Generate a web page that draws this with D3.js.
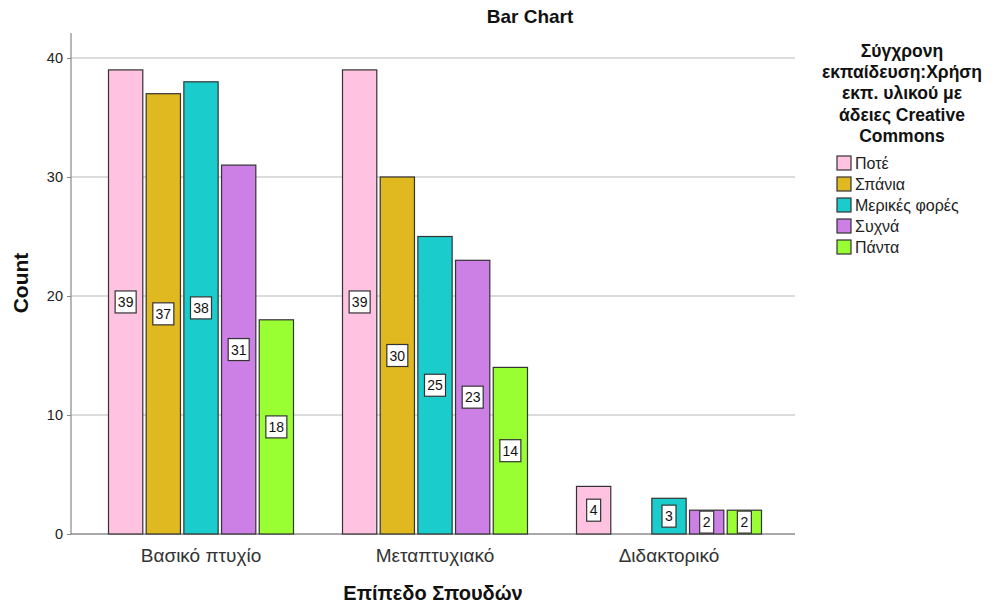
<!DOCTYPE html>
<html><head><meta charset="utf-8">
<script src="https://cdn.jsdelivr.net/npm/d3@7"></script>
<style>body{margin:0;background:#fff;font-family:"Liberation Sans",Arial,sans-serif;}</style>
</head><body><svg id="c" width="997" height="606"></svg>
<script>
const categories = ["Βασικό πτυχίο", "Μεταπτυχιακό", "Διδακτορικό"];
const seriesNames = ["Ποτέ", "Σπάνια", "Μερικές φορές", "Συχνά", "Πάντα"];
const seriesColors = ["#FFC2E0", "#E0B820", "#1ACCCC", "#CC80E6", "#99FF33"];
const values = [
  [39, 39, 4],
  [37, 30, 0],
  [38, 25, 3],
  [31, 23, 2],
  [18, 14, 2]
];
const yTicks = [0, 10, 20, 30, 40];
const legendTitle = ["Σύγχρονη", "εκπαίδευση:Χρήση", "εκπ. υλικού με", "άδειες Creative", "Commons"];

(function(){
const svg = d3.select("#c");
const pL = 71, pR = 795, pT = 33, pB = 534;
const y = d3.scaleLinear().domain([0, 40]).range([pB, 58]);
const x0 = d3.scaleBand().domain(categories).range([84, 786]).paddingInner(0).paddingOuter(0);
const groupW = 185;
const x1 = d3.scaleBand().domain(seriesNames).range([0, groupW]).paddingInner(0.09).paddingOuter(0);

// gridlines
svg.append("g").selectAll("line").data(yTicks.filter(d => d > 0)).join("line")
  .attr("x1", pL).attr("x2", pR).attr("y1", d => y(d)).attr("y2", d => y(d))
  .attr("stroke", "#d0d0d0").attr("stroke-width", 1.5);

// axes
svg.append("line").attr("x1", pL).attr("x2", pL).attr("y1", pT).attr("y2", pB).attr("stroke", "#888").attr("stroke-width", 1.2);
svg.append("line").attr("x1", pL).attr("x2", pR).attr("y1", pB).attr("y2", pB).attr("stroke", "#555").attr("stroke-width", 1.2);
const yAxis = d3.axisLeft(y).tickValues(yTicks).tickSize(4).tickPadding(4);
const ya = svg.append("g").attr("transform", `translate(${pL},0)`).call(yAxis);
ya.select(".domain").remove();
ya.selectAll("line").attr("stroke", "#888");
ya.selectAll("text").attr("font-size", 14.5).attr("fill", "#222").attr("font-family", "Liberation Sans, Arial, sans-serif");

// bars
const data = [];
seriesNames.forEach((s, si) => categories.forEach((c, ci) => data.push({s, si, c, v: values[si][ci]})));
const bx = d => x0(d.c) + (x0.bandwidth() - groupW) / 2 + x1(d.s);
const bars = data.filter(d => d.v > 0);
svg.append("g").selectAll("rect").data(bars).join("rect")
  .attr("x", bx).attr("width", x1.bandwidth())
  .attr("y", d => y(d.v)).attr("height", d => y(0) - y(d.v))
  .attr("fill", d => seriesColors[d.si]).attr("stroke", "#333").attr("stroke-width", 1.2);

// labels
const lg = svg.append("g").selectAll("g").data(bars).join("g")
  .attr("transform", d => `translate(${bx(d) + x1.bandwidth() / 2},${(y(d.v) + y(0)) / 2})`);
lg.append("rect")
  .attr("x", d => String(d.v).length > 1 ? -10.5 : -7).attr("width", d => String(d.v).length > 1 ? 21 : 14)
  .attr("y", -11).attr("height", 22)
  .attr("fill", "#fff").attr("stroke", "#333").attr("stroke-width", 1.2);
lg.append("text").text(d => d.v).attr("text-anchor", "middle").attr("dy", "0.36em")
  .attr("font-size", 14).attr("fill", "#111");

// category labels
svg.append("g").selectAll("text").data(categories).join("text")
  .attr("x", d => x0(d) + x0.bandwidth() / 2).attr("y", 562)
  .attr("text-anchor", "middle").attr("font-size", 19).attr("fill", "#333").text(d => d);

// titles
svg.append("text").attr("x", 530).attr("y", 23).attr("text-anchor", "middle")
  .attr("font-size", 19).attr("font-weight", "bold").attr("fill", "#111").text("Bar Chart");
svg.append("text").attr("x", 433).attr("y", 600).attr("text-anchor", "middle")
  .attr("font-size", 20).attr("font-weight", "bold").attr("fill", "#111").text("Επίπεδο Σπουδών");
svg.append("text").attr("transform", "translate(28,283) rotate(-90)").attr("text-anchor", "middle")
  .attr("font-size", 21).attr("font-weight", "bold").attr("fill", "#111").text("Count");

// legend
svg.append("g").selectAll("text").data(legendTitle).join("text")
  .attr("x", 902).attr("y", (d, i) => 57 + i * 21.2).attr("text-anchor", "middle")
  .attr("font-size", 17.5).attr("font-weight", "bold").attr("fill", "#111").text(d => d);
const li = svg.append("g").selectAll("g").data(seriesNames).join("g")
  .attr("transform", (d, i) => `translate(837,${156 + i * 21})`);
li.append("rect").attr("width", 14).attr("height", 14)
  .attr("fill", (d, i) => seriesColors[i]).attr("stroke", "#333").attr("stroke-width", 1.2);
li.append("text").attr("x", 18).attr("y", 13).attr("font-size", 16).attr("fill", "#222").text(d => d);
})();
</script></body></html>
